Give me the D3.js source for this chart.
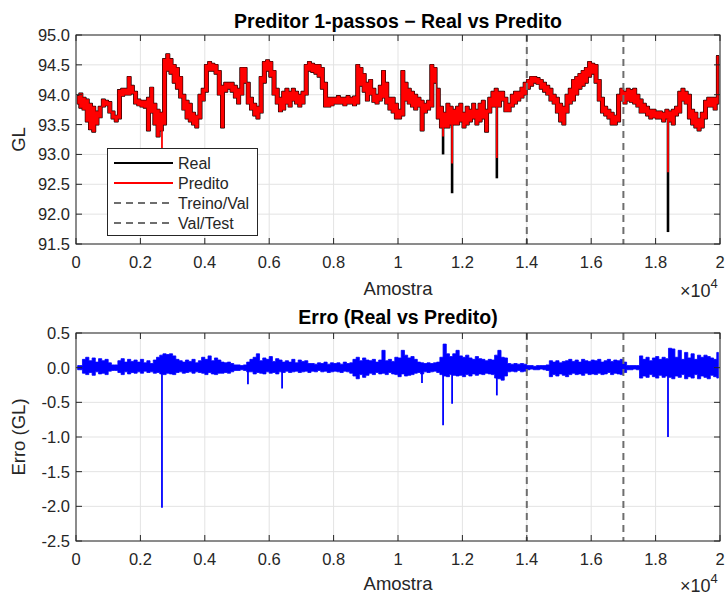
<!DOCTYPE html>
<html><head><meta charset="utf-8">
<script src="https://cdn.jsdelivr.net/npm/d3@7"></script>
<style>body{margin:0;background:#fff}svg{display:block;font-family:"Liberation Sans",Arial,Helvetica,sans-serif}</style>
</head><body><svg id="c" width="727" height="596"></svg>
<script>
// ---- data (min/max envelope per 100-sample window + isolated spikes) ----
const binSize = 100;
const xTickValues = [0,2000,4000,6000,8000,10000,12000,14000,16000,18000,20000];
const xTickLabels = ["0","0.2","0.4","0.6","0.8","1","1.2","1.4","1.6","1.8","2"];
const yTopTicks = [91.5,92.0,92.5,93.0,93.5,94.0,94.5,95.0];
const yBotTicks = [-2.5,-2.0,-1.5,-1.0,-0.5,0.0,0.5];
const splitSamples = [14000,17000];
const legendLabels = ["Real","Predito","Treino/Val","Val/Test"];

const realLo = [
93.85,93.78,93.75,93.55,93.42,93.38,93.5,93.62,93.8,93.82,
93.7,93.6,93.55,93.6,93.98,94.0,94.0,94.02,93.85,93.82,
93.8,93.78,93.4,93.7,93.5,93.3,93.4,93.5,94.4,94.35,
94.2,94.1,93.95,93.75,93.6,93.55,93.5,93.45,93.6,93.9,
94.05,94.4,94.4,94.35,94.0,93.45,94.05,94.1,94.05,93.95,
93.85,94.0,94.2,93.85,93.75,93.65,93.6,93.7,94.2,94.4,
94.3,94.0,93.85,93.72,93.75,93.85,93.8,93.9,93.85,93.8,
93.85,94.0,94.4,94.38,94.35,94.3,94.1,93.8,93.8,93.82,
93.85,93.85,93.85,93.82,93.85,93.85,93.82,93.85,94.15,94.05,
93.9,94.0,93.88,93.85,93.9,93.95,93.85,93.75,93.7,93.6,
93.6,93.65,93.9,93.85,93.8,93.75,93.8,93.4,93.7,93.75,
93.8,94.2,93.6,93.45,93.45,93.45,93.5,93.5,93.5,93.55,
93.45,93.5,93.55,93.6,93.5,93.55,93.6,93.38,93.7,93.8,
93.8,93.8,93.9,93.72,93.72,93.8,93.85,93.9,93.95,94.0,
94.1,94.15,94.2,94.18,94.1,94.05,94.0,93.9,93.85,93.7,
93.55,93.5,93.7,93.85,93.9,94.0,94.1,94.15,94.2,94.3,
94.35,94.2,93.9,93.7,93.65,93.6,93.5,93.5,93.55,93.9,
93.85,93.9,93.88,93.85,93.8,93.7,93.7,93.65,93.6,93.62,
93.6,93.6,93.55,93.6,93.55,93.5,93.65,93.7,93.9,93.85,
93.6,93.5,93.45,93.4,93.45,93.6,93.8,93.8,93.75,93.85];
const realHi = [
93.98,94.02,93.95,93.92,93.85,93.8,93.72,93.8,93.92,93.9,
93.88,93.72,93.65,94.08,94.1,94.1,94.3,94.15,94.05,93.92,
93.9,93.9,93.95,94.12,93.85,93.75,93.7,94.6,94.68,94.6,
94.5,94.45,94.3,94.0,93.9,93.85,93.7,93.65,94.0,94.1,
94.5,94.55,94.52,94.5,94.4,94.15,94.2,94.2,94.2,94.15,
94.1,94.45,94.45,94.2,93.95,93.85,93.8,94.3,94.55,94.58,
94.55,94.4,94.1,93.95,94.05,94.1,94.05,94.1,94.05,94.0,
94.05,94.5,94.55,94.52,94.5,94.5,94.45,94.2,93.95,93.95,
93.95,93.98,93.95,93.95,93.98,93.95,93.97,94.5,94.45,94.35,
94.2,94.25,94.1,94.0,94.15,94.4,94.2,93.95,93.95,93.85,
93.75,94.4,94.2,94.1,94.05,94.0,93.95,93.9,93.85,93.9,
94.5,94.45,94.1,93.8,93.7,93.85,93.8,93.75,93.8,93.85,
93.7,93.8,93.75,93.85,93.75,93.85,93.9,93.75,93.95,94.05,
94.1,94.05,94.05,93.95,93.85,94.0,94.05,94.05,94.12,94.2,
94.25,94.3,94.3,94.28,94.25,94.2,94.15,94.1,94.0,93.95,
93.85,93.8,94.0,94.1,94.25,94.3,94.35,94.4,94.45,94.55,
94.52,94.5,94.25,93.95,93.8,93.75,93.7,93.65,94.0,94.1,
94.05,94.1,94.08,94.1,94.0,93.92,93.85,93.8,93.75,93.75,
93.72,93.72,93.7,93.75,93.72,93.75,93.8,94.05,94.1,94.05,
94.0,93.75,93.7,93.6,93.7,93.9,93.95,93.95,93.95,94.65];
// isolated downward spikes (sample index, minimum of real, minimum of predicted)
const gaSpikeSamples = [2670,11400,11680,13070,18385];
const realSpikeMin   = [93.45,93.0,92.35,92.6,91.7];
const predSpikeMin   = [93.1,93.3,92.85,92.94,92.7];

const errHi = [
0.03,0.03,0.12,0.15,0.1,0.14,0.08,0.13,0.1,0.12,
0.07,0.04,0.04,0.1,0.13,0.08,0.12,0.09,0.11,0.08,
0.12,0.07,0.1,0.06,0.11,0.15,0.18,0.2,0.19,0.2,
0.17,0.12,0.1,0.08,0.11,0.09,0.12,0.07,0.1,0.15,
0.12,0.17,0.1,0.14,0.11,0.08,0.07,0.08,0.06,0.04,
0.04,0.03,0.04,0.08,0.12,0.15,0.2,0.1,0.14,0.12,
0.16,0.09,0.13,0.11,0.08,0.1,0.08,0.12,0.07,0.11,
0.09,0.1,0.06,0.06,0.05,0.07,0.06,0.08,0.05,0.07,
0.06,0.07,0.05,0.08,0.06,0.07,0.12,0.15,0.1,0.14,
0.11,0.1,0.12,0.08,0.11,0.25,0.1,0.12,0.09,0.15,
0.14,0.25,0.18,0.14,0.16,0.12,0.08,0.07,0.06,0.07,
0.06,0.07,0.08,0.15,0.34,0.2,0.16,0.2,0.25,0.17,
0.15,0.18,0.14,0.12,0.16,0.13,0.12,0.1,0.12,0.11,
0.18,0.25,0.15,0.14,0.06,0.05,0.06,0.05,0.06,0.05,
0.03,0.03,0.02,0.03,0.03,0.03,0.04,0.1,0.08,0.1,
0.07,0.09,0.1,0.12,0.09,0.11,0.08,0.12,0.1,0.09,
0.11,0.1,0.12,0.08,0.1,0.12,0.09,0.11,0.1,0.12,
0.08,0.03,0.03,0.03,0.03,0.17,0.12,0.15,0.1,0.14,
0.16,0.12,0.15,0.13,0.28,0.27,0.15,0.25,0.12,0.22,
0.14,0.2,0.12,0.18,0.15,0.18,0.16,0.14,0.12,0.22];
const errLo = [
-0.03,-0.03,-0.08,-0.1,-0.07,-0.11,-0.06,-0.09,-0.08,-0.1,
-0.05,-0.04,-0.04,-0.07,-0.1,-0.06,-0.09,-0.07,-0.08,-0.06,
-0.08,-0.05,-0.07,-0.06,-0.08,-0.07,-0.09,-0.1,-0.08,-0.09,
-0.1,-0.07,-0.06,-0.08,-0.07,-0.06,-0.08,-0.06,-0.07,-0.08,
-0.1,-0.07,-0.09,-0.1,-0.08,-0.08,-0.07,-0.08,-0.06,-0.04,
-0.04,-0.03,-0.04,-0.06,-0.06,-0.09,-0.07,-0.08,-0.09,-0.06,
-0.08,-0.07,-0.09,-0.06,-0.07,-0.05,-0.07,-0.06,-0.05,-0.07,
-0.06,-0.05,-0.07,-0.05,-0.06,-0.04,-0.06,-0.05,-0.07,-0.06,
-0.05,-0.06,-0.07,-0.05,-0.06,-0.08,-0.12,-0.16,-0.1,-0.14,
-0.11,-0.08,-0.1,-0.07,-0.09,-0.08,-0.1,-0.07,-0.09,-0.1,
-0.13,-0.09,-0.12,-0.11,-0.1,-0.08,-0.07,-0.09,-0.06,-0.07,
-0.06,-0.05,-0.07,-0.1,-0.12,-0.13,-0.1,-0.11,-0.12,-0.11,
-0.13,-0.1,-0.12,-0.09,-0.11,-0.09,-0.1,-0.08,-0.09,-0.1,
-0.15,-0.16,-0.18,-0.12,-0.06,-0.05,-0.06,-0.04,-0.06,-0.05,
-0.03,-0.02,-0.03,-0.03,-0.02,-0.03,-0.04,-0.13,-0.1,-0.12,
-0.09,-0.11,-0.13,-0.1,-0.08,-0.1,-0.09,-0.11,-0.08,-0.1,
-0.09,-0.1,-0.08,-0.1,-0.09,-0.07,-0.1,-0.08,-0.09,-0.1,
-0.07,-0.03,-0.03,-0.02,-0.03,-0.15,-0.12,-0.14,-0.1,-0.13,
-0.15,-0.11,-0.14,-0.12,-0.14,-0.16,-0.12,-0.14,-0.1,-0.16,
-0.13,-0.15,-0.1,-0.16,-0.12,-0.14,-0.16,-0.11,-0.13,-0.15];
// isolated error spikes (sample index, value)
const errSpikeSamples = [2670,5340,6400,10745,11400,11680,13070,18385];
const errSpikeValues  = [-2.02,-0.24,-0.30,-0.22,-0.83,-0.52,-0.40,-1.00];

// ---- drawing ----
const svg = d3.select("#c");
const AX = "#262626", GRID = "#e3e3e3", DASH = "#6e6e6e";
const x = d3.scaleLinear().domain([0,20000]).range([76,720]);
const yTop = d3.scaleLinear().domain([91.5,95]).range([244,35]);
const yBot = d3.scaleLinear().domain([-2.5,0.5]).range([541,333]);

function bins(lo,hi){ return lo.map((v,i)=>({s:i*binSize+binSize/2, lo:v, hi:hi[i]})); }

function panel(y, yTicks, clipId, title, titleY, ylabel, xlabY, tickLabY, drawData){
  const [y1,y0] = y.range();
  const g = svg.append("g");
  g.append("clipPath").attr("id",clipId).append("rect")
    .attr("x",76).attr("y",y0).attr("width",644).attr("height",y1-y0);
  g.selectAll(".gx").data(xTickValues).join("line")
    .attr("x1",d=>x(d)).attr("x2",d=>x(d)).attr("y1",y0).attr("y2",y1)
    .attr("stroke",GRID).attr("stroke-width",1);
  g.selectAll(".gy").data(yTicks).join("line")
    .attr("x1",76).attr("x2",720).attr("y1",d=>y(d)).attr("y2",d=>y(d))
    .attr("stroke",GRID).attr("stroke-width",1);
  const dg = g.append("g").attr("clip-path",`url(#${clipId})`);
  drawData(dg);
  dg.selectAll(".sp").data(splitSamples).join("line")
    .attr("x1",d=>x(d)).attr("x2",d=>x(d)).attr("y1",y0).attr("y2",y1)
    .attr("stroke",DASH).attr("stroke-width",2).attr("stroke-dasharray","7,5");
  g.append("rect").attr("x",76).attr("y",y0).attr("width",644).attr("height",y1-y0)
    .attr("fill","none").attr("stroke",AX).attr("stroke-width",1);
  const tl=6;
  xTickValues.forEach(v=>{
    g.append("line").attr("x1",x(v)).attr("x2",x(v)).attr("y1",y1).attr("y2",y1-tl).attr("stroke",AX);
    g.append("line").attr("x1",x(v)).attr("x2",x(v)).attr("y1",y0).attr("y2",y0+tl).attr("stroke",AX);
  });
  yTicks.forEach(v=>{
    g.append("line").attr("x1",76).attr("x2",76+tl).attr("y1",y(v)).attr("y2",y(v)).attr("stroke",AX);
    g.append("line").attr("x1",720).attr("x2",720-tl).attr("y1",y(v)).attr("y2",y(v)).attr("stroke",AX);
  });
  g.selectAll(".xl").data(xTickValues).join("text")
    .attr("x",d=>x(d)).attr("y",tickLabY).attr("text-anchor","middle")
    .attr("font-size",16.5).attr("fill",AX).text((d,i)=>xTickLabels[i]);
  g.selectAll(".yl").data(yTicks).join("text")
    .attr("x",70).attr("y",d=>y(d)).attr("dy","0.36em").attr("text-anchor","end")
    .attr("font-size",16.5).attr("fill",AX).text(d=>d.toFixed(1));
  g.append("text").attr("x",398).attr("y",xlabY).attr("text-anchor","middle")
    .attr("font-size",18.5).attr("fill",AX).text("Amostra");
  const ex = g.append("text").attr("x",680).attr("y",xlabY+2).attr("font-size",18).attr("fill",AX);
  ex.append("tspan").text("\u00d710");
  ex.append("tspan").attr("dy",-9).attr("font-size",13).text("4");
  g.append("text").attr("x",398).attr("y",titleY).attr("text-anchor","middle")
    .attr("font-size",19.5).attr("font-weight","bold").attr("fill","#000").text(title);
  g.append("text").attr("transform",`translate(25,${(y0+y1)/2}) rotate(-90)`)
    .attr("text-anchor","middle").attr("font-size",18.5).attr("fill",AX).text(ylabel);
  return g;
}

panel(yTop, yTopTicks, "clipTop", "Preditor 1-passos \u2212 Real vs Predito", 28, "GL", 295, 268, dg=>{
  const a = d3.area().curve(d3.curveStep).x(d=>x(d.s)).y0(d=>yTop(d.lo)).y1(d=>yTop(d.hi));
  const B = bins(realLo,realHi);
  dg.append("path").attr("d",a(B)).attr("fill","#000")
    .attr("stroke","#000").attr("stroke-width",1.8).attr("stroke-linejoin","round");
  dg.selectAll(".rs").data(gaSpikeSamples).join("line")
    .attr("x1",d=>x(d)).attr("x2",d=>x(d))
    .attr("y1",d=>yTop(realLo[Math.floor(d/binSize)])).attr("y2",(d,i)=>yTop(realSpikeMin[i]))
    .attr("stroke","#000").attr("stroke-width",2.6);
  dg.append("path").attr("d",a(B)).attr("fill","#ff0000")
    .attr("stroke","#ff0000").attr("stroke-width",0.6).attr("stroke-linejoin","round");
  dg.selectAll(".ps").data(gaSpikeSamples).join("line")
    .attr("x1",d=>x(d)).attr("x2",d=>x(d))
    .attr("y1",d=>yTop(realLo[Math.floor(d/binSize)])).attr("y2",(d,i)=>yTop(predSpikeMin[i]))
    .attr("stroke","#ff0000").attr("stroke-width",1.8);
});

panel(yBot, yBotTicks, "clipBot", "Erro (Real vs Predito)", 324, "Erro (GL)", 590, 565, dg=>{
  const a = d3.area().curve(d3.curveStep).x(d=>x(d.s)).y0(d=>yBot(d.lo)).y1(d=>yBot(d.hi));
  dg.append("path").attr("d",a(bins(errLo,errHi))).attr("fill","#0000ff")
    .attr("stroke","#0000ff").attr("stroke-width",0.8).attr("stroke-linejoin","round");
  dg.selectAll(".es").data(errSpikeSamples).join("line")
    .attr("x1",d=>x(d)).attr("x2",d=>x(d))
    .attr("y1",yBot(0)).attr("y2",(d,i)=>yBot(errSpikeValues[i]))
    .attr("stroke","#0000ff").attr("stroke-width",1.8);
});

const lg = svg.append("g");
lg.append("rect").attr("x",107.5).attr("y",148.5).attr("width",150).attr("height",87)
  .attr("fill","#fff").attr("stroke",AX).attr("stroke-width",1);
const lstyle = [
  {c:"#000",w:2,d:null},{c:"#ff0000",w:2,d:null},{c:DASH,w:2,d:"7,5"},{c:DASH,w:2,d:"7,5"}];
legendLabels.forEach((t,i)=>{
  const yy = 163 + i*20;
  lg.append("line").attr("x1",114).attr("x2",173).attr("y1",yy).attr("y2",yy)
    .attr("stroke",lstyle[i].c).attr("stroke-width",lstyle[i].w).attr("stroke-dasharray",lstyle[i].d);
  lg.append("text").attr("x",178).attr("y",yy).attr("dy","0.36em").attr("font-size",16).attr("fill",AX).text(t);
});
</script></body></html>
